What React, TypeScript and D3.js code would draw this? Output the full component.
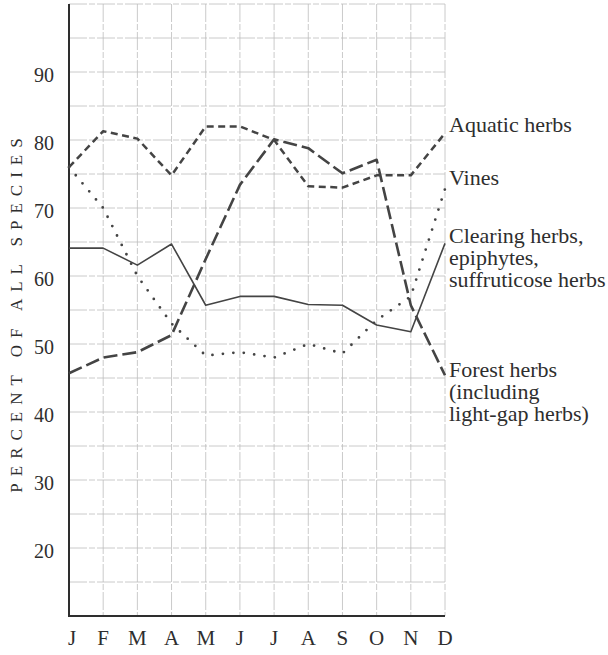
import React from "react";
import * as d3 from "d3";

const months = ["J", "F", "M", "A", "M", "J", "J", "A", "S", "O", "N", "D"];
const yTicks = [20, 30, 40, 50, 60, 70, 80, 90];
const gridValues = [15, 20, 25, 30, 35, 40, 45, 50, 55, 60, 65, 70, 75, 80, 85, 90, 95, 100];

const aquaticHerbs = [76, 81.3, 80.2, 74.8, 82, 82, 80, 73.2, 73, 74.8, 74.8, 81];
const vines = [76, 70, 60, 53, 48.3, 48.8, 48, 50, 48.6, 53.5, 57, 72.8];
const clearingHerbs = [64.1, 64.1, 61.6, 64.7, 55.7, 57, 57, 55.8, 55.7, 52.8, 51.8, 64.8];
const forestHerbs = [45.7, 48, 48.8, 51.3, 62.5, 73.4, 80.1, 78.8, 75.1, 77.1, 55.7, 45.4];

const labels = [
  { lines: ["Aquatic herbs"], y: 132 },
  { lines: ["Vines"], y: 185 },
  { lines: ["Clearing herbs,", "epiphytes,", "suffruticose herbs"], y: 243 },
  { lines: ["Forest herbs", "(including", "light-gap herbs)"], y: 377 },
];

const W = 608;
const H = 655;
const FONT = "'Liberation Serif', 'DejaVu Serif', serif";
const INK = "#2e2e2e";

export default function App() {
  const x = d3.scaleLinear().domain([0, 11]).range([69, 445]);
  const y = d3.scaleLinear().domain([10, 100]).range([616, 4]);
  const line = d3
    .line<number>()
    .x((_, i) => x(i))
    .y((d) => y(d));

  const series = [
    { data: aquaticHerbs, width: 2.5, dash: "7 4.5", cap: "butt" },
    { data: forestHerbs, width: 2.6, dash: "14 5", cap: "butt" },
    { data: clearingHerbs, width: 1.6, dash: undefined, cap: "butt" },
    { data: vines, width: 2.8, dash: "0 10.5", cap: "round" },
  ];

  return (
    <svg
      width={W}
      height={H}
      style={{ position: "absolute", left: 0, top: 0, background: "#fff" }}
    >
      <g>
        {gridValues.map((v) => (
          <line
            key={"h" + v}
            x1={x(0)}
            x2={x(11)}
            y1={y(v)}
            y2={y(v)}
            stroke="#bdbdbd"
            strokeWidth={0.8}
            strokeDasharray="18 2 6 2"
          />
        ))}
        {months.map((m, i) =>
          i === 0 ? null : (
            <line
              key={"v" + i}
              x1={x(i)}
              x2={x(i)}
              y1={y(100)}
              y2={y(10)}
              stroke="#bdbdbd"
              strokeWidth={0.8}
              strokeDasharray="18 2 6 2"
            />
          )
        )}
      </g>
      <line x1={x(0)} x2={x(0)} y1={y(100)} y2={y(10) + 1} stroke={INK} strokeWidth={2} />
      <line x1={x(0) - 1} x2={x(11)} y1={y(10)} y2={y(10)} stroke={INK} strokeWidth={2} />

      {series.map((s, i) => (
        <path
          key={"s" + i}
          d={line(s.data) || ""}
          fill="none"
          stroke="#444"
          strokeWidth={s.width}
          strokeDasharray={s.dash}
          strokeLinecap={s.cap as any}
          strokeLinejoin="round"
        />
      ))}

      {yTicks.map((t) => (
        <text
          key={"t" + t}
          x={54}
          y={y(t) + 9.5}
          textAnchor="end"
          fontFamily={FONT}
          fontSize={20}
          fill={INK}
        >
          {t}
        </text>
      ))}

      {months.map((m, i) => (
        <text
          key={"m" + i}
          x={x(i) + (i === 0 ? 3 : 0)}
          y={645}
          textAnchor="middle"
          fontFamily={FONT}
          fontSize={21}
          fill={INK}
        >
          {m}
        </text>
      ))}

      <text
        transform={`translate(22, ${312}) rotate(-90)`}
        textAnchor="middle"
        fontFamily={FONT}
        fontSize={17}
        letterSpacing={7}
        fill={INK}
      >
        PERCENT OF ALL SPECIES
      </text>

      {labels.map((lb, i) => (
        <text key={"l" + i} fontFamily={FONT} fontSize={22} fill={INK}>
          {lb.lines.map((t, j) => (
            <tspan key={j} x={449} y={lb.y + j * 22}>
              {t}
            </tspan>
          ))}
        </text>
      ))}
    </svg>
  );
}
